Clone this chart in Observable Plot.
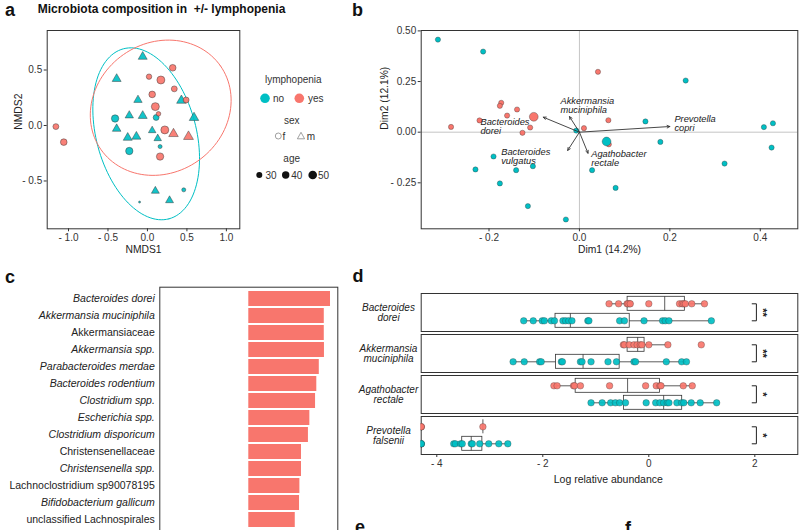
<!DOCTYPE html>
<html><head><meta charset="utf-8">
<script src="https://cdn.jsdelivr.net/npm/d3@7"></script>
<script src="https://cdn.jsdelivr.net/npm/@observablehq/plot@0.6"></script>
<style>
html,body{margin:0;padding:0;background:#fff;}
#page{position:relative;width:800px;height:530px;overflow:hidden;background:#fff;font-family:"Liberation Sans",Arial,Helvetica,sans-serif;}
#page > svg, #page > figure{position:absolute;margin:0;}
</style></head><body><div id="page"></div>
<script>
// ---------- Panel a: NMDS ----------
const aX   = [-1.16,-1.06,0.02,0.32,0.17,0.34,0.06,0.49,0.10,0.14,0.22,0.16, 0.33,0.52, -0.41,0.11,-0.23,0.16,0.46,-0.10, -0.06,-0.39,-0.12,-0.23,-0.06,-0.39,-0.25,-0.14,0.06,0.13,0.43,0.59,0.10,0.28];
const aY   = [-0.01,-0.15,0.44,0.52,0.41,0.33,0.28,0.23,0.17,0.105,-0.04,-0.28, -0.075,-0.10, 0.063,0.072,-0.23,-0.19,-0.58,-0.69, 0.62,0.42,0.23,0.09,0.087,-0.03,-0.11,-0.10,-0.045,-0.117,0.225,0.07,-0.59,-0.675];
const aGroup = ["yes","yes","yes","yes","yes","yes","yes","yes","yes","yes","yes","yes","yes","yes","no","no","no","no","no","no","no","no","no","no","no","no","no","no","no","no","no","no","no","no"];
const aSex = ["f","f","f","f","f","f","f","f","f","f","f","f","m","m","f","f","f","f","f","f","m","m","m","m","m","m","m","m","m","m","m","m","m","m"];
const aAge = [30,35,27,35,45,30,35,30,45,22,45,40, 38,40, 40,30,40,19,19,10, 35,35,32,32,35,33,35,35,28,28,38,38,30,30];
// confidence ellipses (centre + conjugate semi-axes, data units)
const ellGroup = ["no","yes"];
const ellCX = [-0.016, 0.168];
const ellCY = [-0.075, 0.160];
const ellAX = [0.289, 0.757];
const ellAY = [-0.766, 0.377];
const ellBX = [0.611, 0.472];
const ellBY = [0.116, -0.479];

// ---------- Panel b: PCA biplot ----------
const bNoX  = [-0.313,-0.213,0.235,0.146,0.428,0.408,-0.007,0.179,0.425,-0.19,-0.23,-0.14,-0.103,0.321,0.028,-0.176,0.08,-0.114,-0.03];
const bNoY  = [0.457,0.398,0.255,0.053,0.044,0.025,0.008,-0.048,-0.076,-0.12,-0.184,-0.1875,-0.168,-0.155,-0.1875,-0.253,-0.275,-0.365,-0.431];
const bYesX = [0.041,-0.173,-0.176,-0.138,-0.16,-0.221,0.064,-0.284,-0.109,0.01,-0.126,0.065];
const bYesY = [0.298,0.145,0.13,0.112,0.082,0.058,0.059,0.026,0.023,0.02,-0.003,-0.06];
const bCentG = ["yes","no"];
const bCentX = [-0.101, 0.06];
const bCentY = [0.076, -0.046];
const arrLabel = ["Bacteroides\ndorei","Akkermansia\nmuciniphila","Prevotella\ncopri","Agathobacter\nrectale","Bacteroides\nvulgatus"];
const arrX = [-0.08,-0.022,0.2,0.019,-0.026];
const arrY = [0.074,0.077,0.028,-0.104,-0.09];
const arrLabX = [-0.219,-0.042,0.21,0.026,-0.173];
const arrLabY = [0.068,0.174,0.085,-0.089,-0.078];

// ---------- Panel c: LDA bars ----------
const cTaxa = ["Bacteroides dorei","Akkermansia muciniphila","Akkermansiaceae","Akkermansia spp.","Parabacteroides merdae","Bacteroides rodentium","Clostridium spp.","Escherichia spp.","Clostridium disporicum","Christensenellaceae","Christensenella spp.","Lachnoclostridium sp90078195","Bifidobacterium gallicum","unclassified Lachnospirales"];
const cLDA  = [4.59,4.24,4.24,4.25,3.96,3.82,3.75,3.43,3.35,2.96,2.96,2.87,2.85,2.61];
const cItalic = [true,true,false,true,true,true,true,true,true,false,true,false,true,false];

// ---------- Panel d: abundance box plots ----------
const dSpecies = ["Bacteroides dorei","Akkermansia muciniphila","Agathobacter rectale","Prevotella falsenii"];
const dLabels  = ["Bacteroides\ndorei","Akkermansia\nmuciniphila","Agathobacter\nrectale","Prevotella\nfalsenii"];
const dSig     = ["**","**","*","*"];
const dDoreiYes = [-0.75,-0.57,-0.41,-0.36,-0.39,-0.35,0.0,0.58,0.63,0.66,0.69,0.81,1.05];
const dDoreiNo  = [-2.36,-2.18,-2.01,-1.97,-1.84,-1.78,-1.62,-1.57,-1.51,-1.45,-1.15,-1.13,-0.55,-0.46,-0.09,0.26,0.31,0.38,1.18];
const dAkkYes = [-0.48,-0.46,-0.37,-0.28,-0.22,-0.16,-0.13,0.0,0.36,0.99];
const dAkkNo  = [-2.56,-2.35,-2.06,-2.03,-1.65,-1.63,-1.29,-1.26,-1.09,-0.77,-0.61,-0.28,-0.25,0.33,0.62,0.71];
const dAgaYes = [-1.79,-1.73,-1.42,-1.40,-1.29,-0.74,-0.06,0.14,0.21,0.23,0.65,0.82];
const dAgaNo  = [-1.09,-0.88,-0.72,-0.63,-0.55,-0.44,-0.05,0.13,0.21,0.28,0.35,0.38,0.53,0.62,0.66,0.80,0.97,1.28];
const dPreYes = [-Infinity,-Infinity,-Infinity,-3.13];
const dPreNo  = [-Infinity,-Infinity,-Infinity,-Infinity,-3.68,-3.65,-3.55,-3.52,-3.35,-3.33,-3.19,-3.02,-2.83,-2.66];
const dBoxSp = [0,0,1,1,2,2,3,3];
const dBoxG  = ["yes","no","yes","no","yes","no","yes","no"];
const dLo  = [-0.75,-2.36,-0.48,-2.56,-1.79,-1.09,-3.13,-3.68];
const dQ1  = [-0.40,-1.76,-0.40,-1.75,-1.38,-0.47,-3.13,-3.52];
const dMed = [0.30,-1.48,-0.21,-1.24,-0.40,0.28,-3.13,-3.35];
const dQ3  = [0.68,-0.36,-0.08,-0.55,0.21,0.63,-3.13,-3.14];
const dHi  = [1.05,1.18,0.36,0.71,0.82,1.28,-3.13,-2.66];

// ---------- common ----------
const RED = "#F8766D", TEAL = "#00BFC4";
const FONT = '"Liberation Sans", Arial, Helvetica, sans-serif';
const baseStyle = {fontFamily: FONT, fontSize: "10px", color: "#333", background: "transparent", overflow: "visible"};
const signed = (d, n) => (d < 0 ? "- " : "") + Math.abs(d).toFixed(n);
const page = document.getElementById("page");
function place(el, left, top) { el.style.left = left + "px"; el.style.top = top + "px"; page.appendChild(el); }

// ---------- build panel a ----------
const aData = aX.map((x, i) => ({x, y: aY[i], g: aGroup[i], sex: aSex[i], age: aAge[i]}));
const ellData = [];
ellGroup.forEach((g, k) => {
  for (let t = 0; t <= 120; t++) {
    const th = 2 * Math.PI * t / 120;
    ellData.push({g, x: ellCX[k] + Math.cos(th) * ellAX[k] + Math.sin(th) * ellBX[k],
                     y: ellCY[k] + Math.cos(th) * ellAY[k] + Math.sin(th) * ellBY[k]});
  }
});
const plotA = Plot.plot({
  width: 245, height: 262, marginLeft: 46.7, marginRight: 5.7, marginTop: 30, marginBottom: 33.7,
  style: baseStyle,
  x: {domain: [-1.27, 1.17], ticks: [-1, -0.5, 0, 0.5, 1], tickFormat: d => signed(d, 1), label: null, tickSize: 3, tickPadding: 2},
  y: {domain: [-0.931, 0.856], ticks: [-0.5, 0, 0.5], tickFormat: d => signed(d, 1), label: null, tickSize: 3, tickPadding: 2},
  color: {domain: ["no", "yes"], range: [TEAL, RED]},
  symbol: {domain: ["f", "m"], range: ["circle", "triangle"]},
  r: {type: "sqrt", domain: [10, 50], range: [1, 4.3]},
  marks: [
    Plot.frame({stroke: "#333", strokeWidth: 1}),
    Plot.line(ellData, {x: "x", y: "y", z: "g", stroke: "g", strokeWidth: 1}),
    Plot.dot(aData, {x: "x", y: "y", fill: "g", symbol: "sex", r: "age", stroke: "#333", strokeOpacity: 0.65, strokeWidth: 0.7, fillOpacity: 0.92}),
    Plot.text(["NMDS1"], {frameAnchor: "bottom", dy: 24, fontSize: 10.3, fill: "#222"}),
    Plot.text(["NMDS2"], {frameAnchor: "left", dx: -28.4, rotate: -90, fontSize: 10.3, fill: "#222"})
  ]
});
place(plotA, 0, 0);

// ---------- build panel b ----------
const bPts = [...bNoX.map((x, i) => ({x, y: bNoY[i], g: "no"})), ...bYesX.map((x, i) => ({x, y: bYesY[i], g: "yes"}))];
const bCent = bCentG.map((g, i) => ({g, x: bCentX[i], y: bCentY[i]}));
const bArr = arrLabel.map((lab, i) => ({lab, x: arrX[i], y: arrY[i], lx: arrLabX[i], ly: arrLabY[i]}));
const plotB = Plot.plot({
  width: 440, height: 262, marginLeft: 60.7, marginRight: 2.7, marginTop: 30, marginBottom: 33.7,
  style: baseStyle,
  x: {domain: [-0.350, 0.483], ticks: [-0.2, 0, 0.2, 0.4], tickFormat: d => signed(d, 1), label: null, tickSize: 3, tickPadding: 2},
  y: {domain: [-0.477, 0.502], ticks: [-0.25, 0, 0.25, 0.5], tickFormat: d => signed(d, 2), label: null, tickSize: 3, tickPadding: 2},
  color: {domain: ["no", "yes"], range: [TEAL, RED]},
  marks: [
    Plot.ruleX([0], {stroke: "#b5b5b5", strokeWidth: 0.8}),
    Plot.ruleY([0], {stroke: "#b5b5b5", strokeWidth: 0.8}),
    Plot.frame({stroke: "#333", strokeWidth: 1}),
    Plot.dot(bPts, {x: "x", y: "y", fill: "g", r: 2.6, stroke: "#333", strokeOpacity: 0.6, strokeWidth: 0.6}),
    Plot.dot(bCent, {x: "x", y: "y", fill: "g", r: 4.4, stroke: "#333", strokeOpacity: 0.6, strokeWidth: 0.6}),
    Plot.arrow(bArr, {x1: d => 0, y1: d => 0, x2: "x", y2: "y", stroke: "#333", strokeWidth: 0.9, headLength: 5, headAngle: 50}),
    Plot.text(bArr, {x: "lx", y: "ly", text: "lab", textAnchor: "start", lineAnchor: "top", fontStyle: "italic", fontSize: 9.3, lineHeight: 1, fill: "#222"}),
    Plot.text(["Dim1 (14.2%)"], {frameAnchor: "bottom", dy: 24, fontSize: 10.3, fill: "#222"}),
    Plot.text(["Dim2 (12.1%)"], {frameAnchor: "left", dx: -36.7, rotate: -90, fontSize: 10.3, fill: "#222"})
  ]
});
place(plotB, 360, 0);

// ---------- build panel c ----------
const cData = cTaxa.map((name, i) => ({name, lda: cLDA[i], it: cItalic[i]}));
const plotC = Plot.plot({
  width: 345, height: 260, marginLeft: 159.3, marginRight: 7.7, marginTop: 6.7, marginBottom: 8,
  style: baseStyle,
  x: {domain: [-5, 5], axis: null},
  y: {domain: cTaxa, padding: 0.1, axis: null},
  marks: [
    Plot.barX(cData, {x1: d => 0, x2: "lda", y: "name", fill: RED}),
    Plot.frame({stroke: "#333", strokeWidth: 1}),
    Plot.text(cData.filter(d => d.it), {y: "name", text: "name", frameAnchor: "left", dx: -5, textAnchor: "end", fontStyle: "italic", fontSize: 10.5, fill: "#222"}),
    Plot.text(cData.filter(d => !d.it), {y: "name", text: "name", frameAnchor: "left", dx: -5, textAnchor: "end", fontSize: 10.5, fill: "#222"})
  ]
});
place(plotC, 0, 280);

// ---------- build panel d ----------
const DX0 = -4.294;
const dSeries = [[0, "yes", dDoreiYes], [0, "no", dDoreiNo], [1, "yes", dAkkYes], [1, "no", dAkkNo],
                 [2, "yes", dAgaYes], [2, "no", dAgaNo], [3, "yes", dPreYes], [3, "no", dPreNo]];
const dPts = dSeries.flatMap(([s, g, vals]) => vals.map(v => ({sp: dSpecies[s], g, x: v === -Infinity ? DX0 : v})));
const dBox = dBoxSp.map((s, i) => ({sp: dSpecies[s], g: dBoxG[i], lo: dLo[i], q1: dQ1[i], med: dMed[i], q3: dQ3[i], hi: dHi[i]}));
const dLab = dSpecies.map((sp, i) => ({sp, label: dLabels[i], sig: dSig[i], sx: 2.14}));
const dBrk = dSpecies.flatMap(sp => [{sp, g: "yes", x: 1.95}, {sp, g: "yes", x: 2.03}, {sp, g: "no", x: 2.03}, {sp, g: "no", x: 1.95}]);
const plotD = Plot.plot({
  width: 460, height: 212, marginLeft: 80.7, marginRight: 2.7, marginTop: 11.7, marginBottom: 36,
  style: baseStyle,
  x: {domain: [DX0, 2.811], ticks: [-4, -2, 0, 2], tickFormat: d => signed(d, 0), label: null, tickSize: 3, tickPadding: 2},
  y: {domain: ["yes", "no"], padding: 0.167, axis: null},
  fy: {domain: dSpecies, paddingInner: 0.065, paddingOuter: 0, axis: null},
  color: {domain: ["no", "yes"], range: [TEAL, RED]},
  marks: [
    Plot.frame({stroke: "#333", strokeWidth: 1}),
    Plot.ruleY(dBox, {x1: "lo", x2: "q1", y: "g", fy: "sp", stroke: "#333", strokeWidth: 0.8}),
    Plot.ruleY(dBox, {x1: "q3", x2: "hi", y: "g", fy: "sp", stroke: "#333", strokeWidth: 0.8}),
    Plot.barX(dBox, {x1: "q1", x2: "q3", y: "g", fy: "sp", fill: "none", stroke: "#333", strokeWidth: 0.8}),
    Plot.tickX(dBox, {x: "med", y: "g", fy: "sp", stroke: "#333", strokeWidth: 0.8}),
    Plot.dot(dPts, {x: "x", y: "g", fy: "sp", fill: "g", r: 3.3, stroke: "#333", strokeOpacity: 0.5, strokeWidth: 0.6, fillOpacity: 0.92, clip: true}),
    Plot.line(dBrk, {x: "x", y: "g", z: "sp", fy: "sp", stroke: "#222", strokeWidth: 1}),
    Plot.text(dLab, {x: "sx", fy: "sp", text: "sig", rotate: 90, fontSize: 11, fontWeight: "bold", fill: "#222"}),
    Plot.text(dLab, {fy: "sp", text: "label", frameAnchor: "left", dx: -32.7, textAnchor: "middle", fontStyle: "italic", fontSize: 10, lineHeight: 1, fill: "#222"})
  ]
});
place(plotD, 340, 280);

// ---------- titles, legends, panel letters ----------
const ov = `
<svg width="800" height="530" style="position:absolute;left:0;top:0;pointer-events:none;font-family:${FONT.replace(/"/g, "'")}">
  <g font-weight="bold" font-size="18" fill="#111">
    <text x="5" y="16.3">a</text><text x="352" y="16.3">b</text>
    <text x="5" y="283">c</text><text x="352.5" y="282">d</text>
    <text x="355" y="533">e</text><text x="625" y="534">f</text>
  </g>
  <text x="37.7" y="13.3" font-weight="bold" font-size="12" fill="#111">Microbiota composition in&#160; +/- lymphopenia</text>
  <g font-size="10" fill="#333">
    <text x="293.3" y="83" text-anchor="middle">lymphopenia</text>
    <circle cx="265" cy="98.3" r="4.8" fill="${TEAL}"/><text x="273" y="101.6">no</text>
    <circle cx="299.3" cy="98.3" r="4.8" fill="${RED}"/><text x="308" y="101.6">yes</text>
    <text x="291.7" y="124" text-anchor="middle">sex</text>
    <circle cx="278.3" cy="136" r="3" fill="none" stroke="#888" stroke-width="0.8"/><text x="282.5" y="139.5">f</text>
    <path d="M301,132.3 L304.6,138.8 L297.4,138.8 Z" fill="none" stroke="#888" stroke-width="0.8"/><text x="306.7" y="139.5">m</text>
    <text x="291.7" y="162" text-anchor="middle">age</text>
    <circle cx="259.3" cy="175" r="3" fill="#111"/><text x="265.5" y="178.6">30</text>
    <circle cx="285.7" cy="175" r="3.7" fill="#111"/><text x="291.3" y="178.6">40</text>
    <circle cx="312.7" cy="175" r="4.3" fill="#111"/><text x="318" y="178.6">50</text>
  </g>
  <text x="608.3" y="482.8" text-anchor="middle" font-size="10.5" fill="#222">Log relative abundance</text>
</svg>`;
page.insertAdjacentHTML("beforeend", ov);
</script></body></html>
